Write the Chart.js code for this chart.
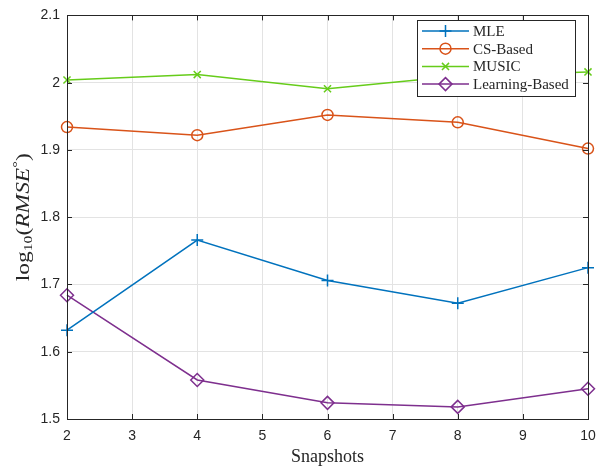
<!DOCTYPE html>
<html>
<head>
<meta charset="utf-8">
<script src="https://cdn.jsdelivr.net/npm/chart.js@4/dist/chart.umd.min.js"></script>
<style>
    html, body { margin: 0; padding: 0; background: #fff; }
    #wrap { width: 614px; height: 470px; }
</style>
</head>
<body>
<div id="wrap"><canvas id="chart" width="614" height="470"></canvas></div>
<script>
// data
const snapshots = [2, 4, 6, 8, 10];
const mleValues = [1.632, 1.766, 1.706, 1.672, 1.725];
const csValues = [1.934, 1.922, 1.952, 1.941, 1.902];
const musicValues = [2.004, 2.012, 1.991, 2.010, 2.016];
const learningValues = [1.684, 1.558, 1.524, 1.518, 1.545];

const seriesNames = ['MLE', 'CS-Based', 'MUSIC', 'Learning-Based'];
const xTicks = [2, 3, 4, 5, 6, 7, 8, 9, 10];
const yTicks = [1.5, 1.6, 1.7, 1.8, 1.9, 2, 2.1];

const axisColor = '#262626';
const gridColor = '#e3e3e3';
const tickFont = { family: 'Liberation Sans, Arial, sans-serif', size: 14 };
const serif = '"Liberation Serif", "DejaVu Serif", serif';

function pts(values) {
    return snapshots.map((x, i) => ({ x: x, y: values[i] }));
}

function makeSet(label, values, color, style, radius) {
    return {
        label: label,
        data: pts(values),
        borderColor: color,
        backgroundColor: color,
        pointBorderColor: color,
        pointBackgroundColor: 'rgba(0,0,0,0)',
        pointStyle: style,
        pointRadius: radius,
        pointHoverRadius: radius,
        pointBorderWidth: 1.5,
        borderWidth: 1.5,
        tension: 0,
        clip: false
    };
}

// box, inward ticks, titles and legend, MATLAB style
const matlabFrame = {
    id: 'matlabFrame',
    afterDraw(chart) {
        const ctx = chart.ctx;
        const a = chart.chartArea;
        const xs = chart.scales.x, ys = chart.scales.y;
        ctx.save();
        ctx.strokeStyle = axisColor;
        ctx.lineWidth = 1;
        ctx.strokeRect(Math.round(a.left) + 0.5, Math.round(a.top) + 0.5,
            Math.round(a.right - a.left), Math.round(a.bottom - a.top));
        ctx.beginPath();
        xTicks.forEach(v => {
            const px = Math.round(xs.getPixelForValue(v)) + 0.5;
            ctx.moveTo(px, a.bottom); ctx.lineTo(px, a.bottom - 5);
            ctx.moveTo(px, a.top); ctx.lineTo(px, a.top + 5);
        });
        yTicks.forEach(v => {
            const py = Math.round(ys.getPixelForValue(v)) + 0.5;
            ctx.moveTo(a.left, py); ctx.lineTo(a.left + 5, py);
            ctx.moveTo(a.right, py); ctx.lineTo(a.right - 5, py);
        });
        ctx.stroke();

        // x title
        ctx.fillStyle = axisColor;
        ctx.font = '18px ' + serif;
        ctx.textAlign = 'center';
        ctx.textBaseline = 'middle';
        ctx.fillText('Snapshots', (a.left + a.right) / 2, 457);

        // y title: log10(RMSE°), stretched to the length seen in the figure
        ctx.translate(24, (a.top + a.bottom) / 2);
        ctx.rotate(-Math.PI / 2);
        const parts = [
            { t: 'log', f: '18px ' + serif, dy: 0 },
            { t: '10', f: '12px ' + serif, dy: 5 },
            { t: '(', f: '18px ' + serif, dy: 0 },
            { t: 'RMSE', f: 'italic 18px ' + serif, dy: 0 },
            { t: '\u00b0', f: '13px ' + serif, dy: -6 },
            { t: ')', f: '18px ' + serif, dy: 0 }
        ];
        let total = 0;
        parts.forEach(p => { ctx.font = p.f; p.w = ctx.measureText(p.t).width; total += p.w; });
        ctx.scale(128 / total, 1);
        let cx = -total / 2;
        ctx.textAlign = 'left';
        parts.forEach(p => {
            ctx.font = p.f;
            ctx.fillText(p.t, cx, p.dy);
            cx += p.w;
        });
        ctx.restore();

        // legend inside the axes, top right
        ctx.save();
        const lx = 417, ly = 20, lw = 158, lh = 76;
        ctx.fillStyle = '#fff';
        ctx.fillRect(lx, ly, lw, lh);
        ctx.strokeStyle = axisColor;
        ctx.lineWidth = 1;
        ctx.strokeRect(lx + 0.5, ly + 0.5, lw, lh);
        ctx.font = '15px ' + serif;
        ctx.textBaseline = 'middle';
        ctx.textAlign = 'left';
        chart.data.datasets.forEach((ds, i) => {
            const y = ly + 11 + i * 17.7;
            ctx.strokeStyle = ds.borderColor;
            ctx.lineWidth = 1.5;
            ctx.beginPath();
            ctx.moveTo(lx + 5, y); ctx.lineTo(lx + 52, y);
            ctx.stroke();
            ctx.fillStyle = 'rgba(0,0,0,0)';
            Chart.helpers.drawPoint(ctx, {
                pointStyle: ds.pointStyle, rotation: 0,
                radius: ds.pointRadius, borderWidth: 1.5
            }, lx + 28.5, y);
            ctx.fillStyle = axisColor;
            ctx.fillText(ds.label, lx + 56, y + 1);
        });
        ctx.restore();
    }
};

new Chart(document.getElementById('chart'), {
    type: 'line',
    data: {
        datasets: [
            makeSet(seriesNames[0], mleValues, '#0072BD', 'cross', 6),
            makeSet(seriesNames[1], csValues, '#D95319', 'circle', 5.5),
            makeSet(seriesNames[2], musicValues, '#66CC1A', 'crossRot', 5),
            makeSet(seriesNames[3], learningValues, '#7E2F8E', 'rectRot', 6.5)
        ]
    },
    options: {
        responsive: false,
        animation: false,
        devicePixelRatio: 1,
        layout: { padding: { top: 7, right: 26, left: 0, bottom: 0 } },
        plugins: { legend: { display: false }, tooltip: { enabled: false } },
        scales: {
            x: {
                type: 'linear',
                min: 2, max: 10,
                afterFit: s => { s.height = 51; },
                afterBuildTicks: s => { s.ticks = xTicks.map(v => ({ value: v })); },
                grid: { color: gridColor, drawTicks: false },
                border: { color: axisColor, width: 1 },
                ticks: { color: axisColor, font: tickFont, padding: 9, maxRotation: 0 }
            },
            y: {
                min: 1.5, max: 2.1,
                afterFit: s => { s.width = 67; },
                afterBuildTicks: s => { s.ticks = yTicks.map(v => ({ value: v })); },
                grid: { color: gridColor, drawTicks: false },
                border: { color: axisColor, width: 1 },
                ticks: {
                    color: axisColor, font: tickFont, padding: 7,
                    callback: v => String(v)
                }
            }
        }
    },
    plugins: [matlabFrame]
});
</script>
</body>
</html>
